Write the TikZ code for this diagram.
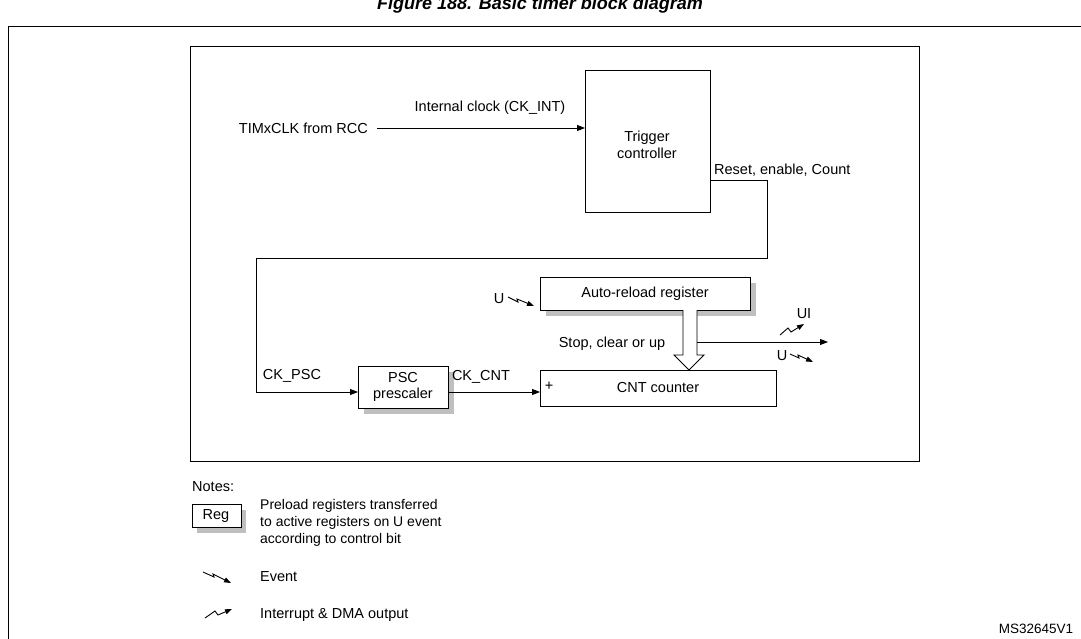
\documentclass[tikz,border=0pt]{standalone}
\usepackage{fontspec}
\setmainfont{Liberation Sans}
\usetikzlibrary{arrows.meta,shapes.arrows}
\begin{document}
\begin{tikzpicture}[x=1pt,y=-1pt,
  txt/.style={font=\fontsize{14.5}{16.5}\selectfont,inner sep=0pt},
  blk/.style={draw,line width=0.9pt,fill=white},
  shd/.style={fill=black!25,draw=none},
  con/.style={line width=0.9pt},
  arr/.style={con,-{Triangle[length=8pt,width=6pt]}},
  ev/.style={con,-{Triangle[length=7pt,width=5pt]}}]
\useasboundingbox (0,0) rectangle (1081,639);
\node[font=\bfseries\itshape\fontsize{18}{20}\selectfont,anchor=base] (title) at (540,10) {Figure 188. Basic timer block diagram};
\draw[line width=1pt] (1090,27) -- (8,27) -- (8,650);
\draw[line width=0.9pt] (190,46) rectangle (919,461);
% trigger
\node[blk,minimum width=125pt,minimum height=142pt,anchor=north west] (trig) at (585,70) {};
\node[txt,align=center] (trigt) at (647,145) {Trigger\\controller};
\node[txt,anchor=east] (clk) at (368,128) {TIMxCLK from RCC};
\coordinate (c1) at (377,128);
\draw[arr] (c1) -- (trig.west|-c1);
\node[txt] (ckint) at (490,108) {Internal clock (CK\_INT)};
\node[txt,anchor=west] (rst) at (714,170) {Reset, enable, Count};
% PSC
\fill[shd] (364,372) rectangle (454,414);
\node[blk,minimum width=90pt,minimum height=42pt,anchor=north west] (psc) at (358,366) {};
\node[txt,align=center] (psct) at (403,387) {PSC\\prescaler};
\coordinate (r1) at (710,180);
\coordinate (r2) at (767,180);
\coordinate (r3) at (767,258);
\coordinate (r4) at (256,258);
\coordinate (r5) at (256,392);
\draw[con] (r1) -- (r2) -- (r3) -- (r4) -- (r5);
\draw[arr] (r5) -- (psc.west|-r5);
\node[txt] (ckpsc) at (292,376) {CK\_PSC};
% ARR
\fill[shd] (546,283) rectangle (756,316);
\node[blk,minimum width=210pt,minimum height=33pt,anchor=north west] (arr) at (540,277) {};
\node[txt] (arrt) at (645,294) {Auto-reload register};
% CNT
\node[blk,minimum width=236pt,minimum height=36pt,anchor=north west] (cnt) at (540,370) {};
\node[txt] (cntt) at (658,388) {CNT counter};
\node[txt] (plus) at (549,386) {+};
\draw[arr] (psc.east|-0,392) -- (cnt.west|-0,392);
\node[txt] (ckcnt) at (481,377) {CK\_CNT};
% hollow arrow
\draw[line width=0.9pt,fill=white] (683,310) -- (683,355) -- (674,355) -- (689,370) -- (704,355) -- (697,355) -- (697,310);
\node[txt] (scu) at (612,344) {Stop, clear or up};
\coordinate (o1) at (697,342);
\coordinate (o2) at (828,342);
\draw[arr] (o1) -- (o2);
\node[txt] (ui) at (804,314) {UI};
\node[txt] (u2) at (782,356) {U};
\draw[ev] (780,335) -- (788,328) -- (791,332) -- (804,324);
\draw[ev] (790,354) -- (799,358) -- (798,355) -- (813,362);
\node[txt] (u1) at (499,299) {U};
\draw[ev] (508,297) -- (518,302) -- (517,299) -- (534,306);
% notes
\node[txt,anchor=west] (notes) at (192,487) {Notes:};
\fill[shd] (197,510) rectangle (246,533);
\node[blk,minimum width=49pt,minimum height=23pt,anchor=north west] (reg) at (192,504) {};
\node[txt] (regt) at (216,516) {Reg};
\node[txt,anchor=north west,align=left,font=\fontsize{14}{17}\selectfont] (regd) at (260,499) {Preload registers transferred\\to active registers on U event\\according to control bit};
\draw[ev] (203,572) -- (214,577) -- (213,574) -- (231,583);
\node[txt,anchor=west] (ev) at (260,577) {Event};
\draw[ev] (205,618) -- (215,611) -- (218,615) -- (232,609);
\node[txt,anchor=west] (irq) at (260,615) {Interrupt \& DMA output};
\node[txt,font=\fontsize{13.5}{15}\selectfont] (ms) at (1036,629) {MS32645V1};
\end{tikzpicture}
\end{document}
